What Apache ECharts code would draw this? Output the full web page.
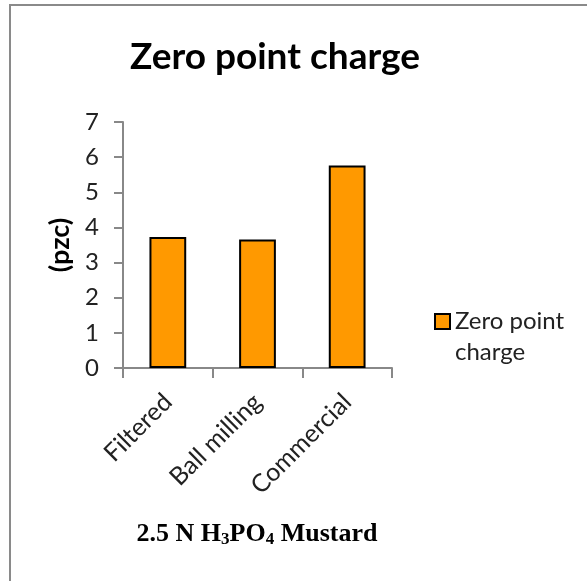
<!DOCTYPE html>
<html>
<head>
<meta charset="utf-8">
<script src="https://cdn.jsdelivr.net/npm/echarts@6/dist/echarts.min.js"></script>
<style>
  html, body { margin: 0; padding: 0; background: #fff; }
  #chart { width: 587px; height: 581px; }
</style>
</head>
<body>
<div id="chart"></div>
<script>
// Point of zero charge for the three mustard-derived samples
const categories = ['Filtered', 'Ball milling', 'Commercial'];
const pzcValues = [3.73, 3.66, 5.76];
const yTicks = { min: 0, max: 7, interval: 1 };
const seriesName = 'Zero point charge';

const chart = echarts.init(document.getElementById('chart'), null, { renderer: 'canvas' });

const labelFont = 'Lato, "Open Sans", sans-serif';

chart.setOption({
  backgroundColor: '#ffffff',
  animation: false,
  graphic: [{
    type: 'rect',
    shape: { x: 10, y: 5, width: 620, height: 620 },
    style: { fill: 'none', stroke: '#8a8a8a', lineWidth: 2 },
    silent: true
  }],
  title: [{
    text: 'Zero point charge',
    left: 270,
    top: 34,
    textAlign: 'center',
    textStyle: { fontFamily: 'Lato, "Open Sans", sans-serif', fontWeight: 'bold', fontSize: 37, color: '#000' }
  }, {
    text: '{b|2.5 N H}{s|3}{b|PO}{s|4}{b| Mustard}',
    left: 252,
    top: 514,
    textAlign: 'center',
    textStyle: {
      rich: {
        b: { fontFamily: '"Liberation Serif", serif', fontWeight: 'bold', fontSize: 26, color: '#000', lineHeight: 30 },
        s: { fontFamily: '"Liberation Serif", serif', fontWeight: 'bold', fontSize: 17, color: '#000', lineHeight: 30, padding: [12, 0, 0, 0] }
      }
    }
  }],
  legend: {
    orient: 'vertical',
    left: 429,
    top: 270,
    itemWidth: 15,
    itemHeight: 15,
    itemGap: 0,
    icon: 'rect',
    // leading blank line keeps the swatch level with the first text line
    formatter: function (name) { return ' \n' + name; },
    textStyle: { fontFamily: labelFont, fontSize: 24, color: '#222', width: 130, overflow: 'break', lineHeight: 31 },
    data: [seriesName]
  },
  grid: { left: 123, right: 195, top: 122, bottom: 213, containLabel: false },
  xAxis: {
    type: 'category',
    data: categories,
    axisLine: { lineStyle: { color: '#888', width: 2 } },
    axisTick: { show: true, length: 10, lineStyle: { color: '#888', width: 2 } },
    axisLabel: { rotate: 45, margin: 30, fontFamily: labelFont, fontSize: 25, color: '#222', interval: 0 }
  },
  yAxis: {
    type: 'value',
    min: yTicks.min,
    max: yTicks.max,
    interval: yTicks.interval,
    name: '(pzc)',
    nameLocation: 'middle',
    nameRotate: 90,
    nameGap: 49,
    nameTextStyle: { fontFamily: labelFont, fontWeight: 'bold', fontSize: 27, color: '#000' },
    splitLine: { show: false },
    axisLine: { show: true, lineStyle: { color: '#888', width: 2 } },
    axisTick: { show: true, length: 9, lineStyle: { color: '#888', width: 2 } },
    axisLabel: { margin: 24, fontFamily: labelFont, fontSize: 24, color: '#222' }
  },
  series: [{
    name: seriesName,
    type: 'bar',
    data: pzcValues,
    barWidth: '41%',
    itemStyle: { color: '#FF9900', borderColor: '#000', borderWidth: 2 }
  }]
});
</script>
</body>
</html>
